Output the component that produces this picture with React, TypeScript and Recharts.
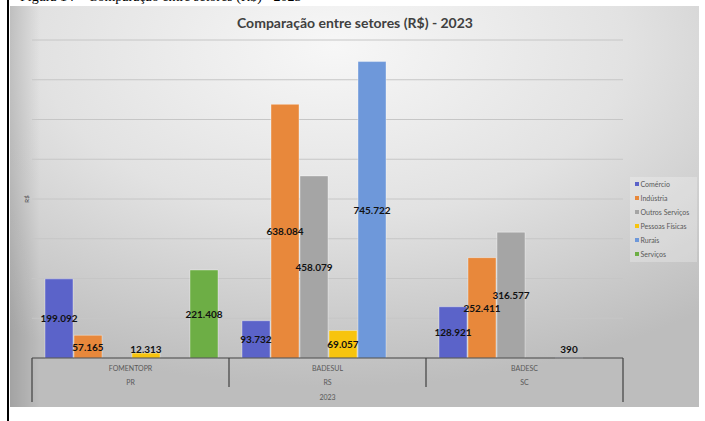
import { Bar, BarChart, CartesianGrid, LabelList, XAxis, YAxis } from "recharts"

const agencies = ["FOMENTOPR", "BADESUL", "BADESC"]
const states = ["PR", "RS", "SC"]
const year = "2023"

const comercio = [199092, 93732, 128921]
const industria = [57165, 638084, 252411]
const outrosServicos = [null, 458079, 316577]
const pessoasFisicas = [12313, 69057, null]
const rurais = [null, 745722, 390]
const servicos = [221408, null, null]

const yTicks = [0, 100000, 200000, 300000, 400000, 500000, 600000, 700000, 800000]

const SERIES = [
  { key: "comercio", name: "Comércio", color: "#5B63C9", values: comercio },
  { key: "industria", name: "Indústria", color: "#E8883B", values: industria },
  { key: "outros", name: "Outros Serviços", color: "#A5A5A5", values: outrosServicos },
  { key: "pf", name: "Pessoas Físicas", color: "#F7C40E", values: pessoasFisicas },
  { key: "rurais", name: "Rurais", color: "#6E98DA", values: rurais },
  { key: "servicos", name: "Serviços", color: "#6DAE45", values: servicos },
]

const data = agencies.map((agency, i) => {
  const row: Record<string, string | number | null> = { agency, uf: states[i] }
  SERIES.forEach((s) => {
    row[s.key] = s.values[i]
  })
  return row
})

const FONT = "Lato, 'Open Sans', sans-serif"

const fmt = (v: number) => String(v).replace(/\B(?=(\d{3})+(?!\d))/g, ".")

function ValueLabel(props: any) {
  const { x, y, width, height, value } = props
  if (value == null) return null
  const bottom = y + height
  const cy = Math.min(y + height / 2, bottom - 9)
  return (
    <text
      x={x + width / 2}
      y={cy}
      textAnchor="middle"
      dominantBaseline="central"
      fontFamily={FONT}
      fontWeight={700}
      fontSize={10}
      fill="#111"
    >
      {fmt(value)}
    </text>
  )
}

function CategoryTick(props: any) {
  const { x, y, payload, index } = props
  const half = payload?.offset ?? 98.5
  const last = index === agencies.length - 1
  const top = y - 8
  return (
    <g>
      <line x1={x - half} y1={top} x2={x - half} y2={index === 0 ? top + 44 : top + 29} stroke="#404040" strokeWidth={1.2} />
      {last && <line x1={x + half} y1={top} x2={x + half} y2={top + 44} stroke="#404040" strokeWidth={1.2} />}
      <text x={x} y={top + 10} textAnchor="middle" dominantBaseline="central" fontFamily={FONT} fontSize={7} fill="#595959">
        {payload.value}
      </text>
      <text x={x} y={top + 24} textAnchor="middle" dominantBaseline="central" fontFamily={FONT} fontSize={7} fill="#595959">
        {states[index]}
      </text>
      {index === 1 && (
        <text x={x} y={top + 39} textAnchor="middle" dominantBaseline="central" fontFamily={FONT} fontSize={7} fill="#595959">
          {year}
        </text>
      )}
    </g>
  )
}

export default function App() {
  return (
    <div style={{ position: "absolute", left: 0, top: 0, width: 705, height: 421, background: "#fff", overflow: "hidden" }}>
      <svg width={705} height={421} style={{ position: "absolute", left: 0, top: 0 }}>
        <defs>
          <radialGradient id="bg" cx="0.47" cy="0.1" r="0.85" fx="0.47" fy="0.1">
            <stop offset="0" stopColor="#f7f7f7" />
            <stop offset="0.5" stopColor="#e2e2e2" />
            <stop offset="1" stopColor="#bdbdbd" />
          </radialGradient>
          <linearGradient id="edge" x1="0" y1="0" x2="1" y2="0">
            <stop offset="0" stopColor="#000" stopOpacity={0.14} />
            <stop offset="1" stopColor="#000" stopOpacity={0} />
          </linearGradient>
        </defs>
        <text x={20} y={0.5} fontFamily="'Liberation Serif', serif" fontSize={14} fill="#000">
          Figura 14 – Comparação entre setores (R$) - 2023
        </text>
        <rect x={7} y={0} width={2} height={421} fill="#000" />
        <rect x={10} y={6} width={689} height={401} fill="url(#bg)" />
        <rect x={10} y={6} width={30} height={401} fill="url(#edge)" />
        <text x={355} y={22} textAnchor="middle" dominantBaseline="central" fontFamily={FONT} fontWeight={700} fontSize={14} fill="#404040">
          Comparação entre setores (R$) - 2023
        </text>
        <text
          x={26}
          y={199}
          transform="rotate(-90 26 199)"
          textAnchor="middle"
          dominantBaseline="central"
          fontFamily={FONT}
          fontSize={6}
          fill="#404040"
        >
          R$
        </text>
      </svg>
      <div style={{ position: "absolute", left: 0, top: 0 }}>
        <BarChart
          width={705}
          height={421}
          data={data}
          margin={{ top: 40, right: 82, left: 32, bottom: 18 }}
          barCategoryGap={13}
          barGap={1}
        >
          <CartesianGrid vertical={false} stroke="#c6c6c6" />
          <YAxis hide domain={[0, 800000]} ticks={yTicks} />
          <XAxis
            dataKey="agency"
            height={45}
            axisLine={{ stroke: "#404040", strokeWidth: 1.2 }}
            tickLine={false}
            tick={<CategoryTick />}
            interval={0}
          />
          {SERIES.map((s) => (
            <Bar
              key={s.key}
              dataKey={s.key}
              name={s.name}
              fill={s.color}
              stroke="#ffffff"
              strokeOpacity={0.45}
              strokeWidth={0.8}
              isAnimationActive={false}
            >
              <LabelList dataKey={s.key} content={<ValueLabel />} />
            </Bar>
          ))}
        </BarChart>
      </div>
      <div
        style={{
          position: "absolute",
          left: 630,
          top: 177,
          width: 67,
          height: 85,
          background: "rgba(255,255,255,0.25)",
          fontFamily: FONT,
          fontSize: 7,
          color: "#595959",
          boxSizing: "border-box",
        }}
      >
        {SERIES.map((s) => (
          <div key={s.key} style={{ display: "flex", alignItems: "center", height: 14, paddingLeft: 5 }}>
            <span style={{ width: 3.5, height: 3.5, background: s.color, marginRight: 2, display: "inline-block" }} />
            <span>{s.name}</span>
          </div>
        ))}
      </div>
    </div>
  )
}
